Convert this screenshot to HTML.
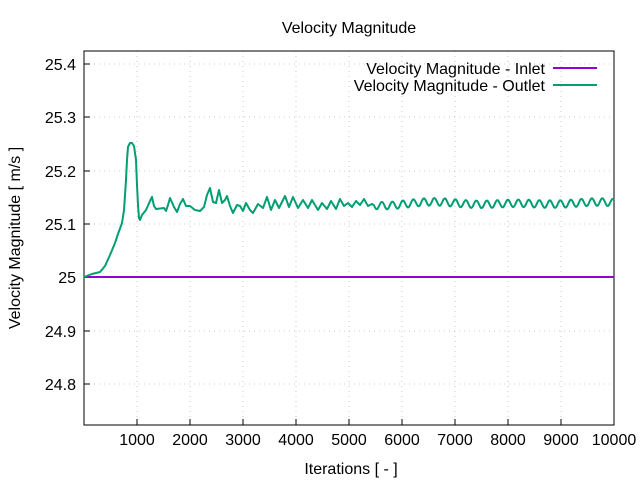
<!DOCTYPE html>
<html><head><meta charset="utf-8"><style>
body{margin:0;background:#fff;width:640px;height:480px;overflow:hidden}
text{font-family:"Liberation Sans",sans-serif;font-size:16px;fill:#000}
</style></head><body>
<svg width="640" height="480" xmlns="http://www.w3.org/2000/svg">
<g stroke="#c8c8c8" stroke-dasharray="1,4" stroke-width="1">
<line x1="84" y1="64" x2="614" y2="64"/><line x1="84" y1="117" x2="614" y2="117"/>
<line x1="84" y1="171" x2="614" y2="171"/><line x1="84" y1="224" x2="614" y2="224"/>
<line x1="84" y1="331" x2="614" y2="331"/><line x1="84" y1="384" x2="614" y2="384"/>
<line x1="137" y1="51" x2="137" y2="425"/><line x1="190" y1="51" x2="190" y2="425"/>
<line x1="243" y1="51" x2="243" y2="425"/><line x1="296" y1="51" x2="296" y2="425"/>
<line x1="349" y1="51" x2="349" y2="425"/><line x1="402" y1="51" x2="402" y2="425"/>
<line x1="455" y1="51" x2="455" y2="425"/><line x1="508" y1="51" x2="508" y2="425"/>
<line x1="561" y1="51" x2="561" y2="425"/>
</g>
<rect x="84" y="51" width="530" height="374" fill="none" stroke="#000" stroke-width="1"/>
<g stroke="#000">
<line x1="84" y1="64" x2="90" y2="64"/><line x1="84" y1="117" x2="90" y2="117"/><line x1="84" y1="171" x2="90" y2="171"/><line x1="84" y1="224" x2="90" y2="224"/><line x1="84" y1="277" x2="90" y2="277"/><line x1="84" y1="331" x2="90" y2="331"/><line x1="84" y1="384" x2="90" y2="384"/>
<line x1="137" y1="425" x2="137" y2="419"/><line x1="190" y1="425" x2="190" y2="419"/><line x1="243" y1="425" x2="243" y2="419"/><line x1="296" y1="425" x2="296" y2="419"/><line x1="349" y1="425" x2="349" y2="419"/><line x1="402" y1="425" x2="402" y2="419"/><line x1="455" y1="425" x2="455" y2="419"/><line x1="508" y1="425" x2="508" y2="419"/><line x1="561" y1="425" x2="561" y2="419"/>
</g>
<g text-anchor="end">
<text x="76" y="70">25.4</text><text x="76" y="123">25.3</text><text x="76" y="177">25.2</text><text x="76" y="230">25.1</text><text x="76" y="283">25</text><text x="76" y="337">24.9</text><text x="76" y="390">24.8</text>
</g>
<g text-anchor="middle">
<text x="137" y="445">1000</text><text x="190" y="445">2000</text><text x="243" y="445">3000</text><text x="296" y="445">4000</text><text x="349" y="445">5000</text><text x="402" y="445">6000</text><text x="455" y="445">7000</text><text x="508" y="445">8000</text><text x="561" y="445">9000</text><text x="614" y="445">10000</text>
<text x="351" y="474">Iterations [ - ]</text>
<text x="349" y="33">Velocity Magnitude</text>
<text transform="translate(20,238) rotate(-90)">Velocity Magnitude [ m/s ]</text>
</g>
<text x="545" y="74" text-anchor="end">Velocity Magnitude - Inlet</text>
<text x="545" y="91" text-anchor="end">Velocity Magnitude - Outlet</text>
<line x1="553" y1="68" x2="597" y2="68" stroke="#9400d3" stroke-width="2"/>
<line x1="553" y1="85" x2="597" y2="85" stroke="#009e73" stroke-width="2"/>
<line x1="84" y1="277" x2="614" y2="277" stroke="#9400d3" stroke-width="2"/>
<polyline id="out" fill="none" stroke="#009e73" stroke-width="2" stroke-linejoin="round" points="84,277 92,274 100,272 105,266 110,255 115,243 118,234 122,223 124,210 126,180 127,160 128,147 130,143 132,143 134,146 136,160 137,185 138,205 139,218 140,220 142,215 146,210 150,201 152,197 154,206 156,209 164,208 166,211 168,205 170,198 174,207 177,212 180,204 183,199 186,206 190,206 195,210 200,211 204,207 207,195 210,188 213,202 216,203 219,190 222,203 225,200 227,196 230,206 233,213 237,205 240,206 243,211 246,203 250,210 253,213 258,204 263,208 267,197 271,210 275,200 279,208 285,196 289,207 293,197 298,208 303,200 308,208 312,200 318,210 322,203 327,209 331,201 336,209 340,199 344,206 348,203 352,207 356,201 360,205 364,199 368,206 372,204"/>
<script>
var p=document.getElementById('out');var s=p.getAttribute('points');
for(var x=374;x<=614;x+=1){var y=203.5+3.8*Math.sin((x-374)*2*Math.PI/10.5)+1.2*Math.sin(x*0.07)+1.0*Math.sin(x*0.05+1);s+=' '+x+','+y.toFixed(1);}
p.setAttribute('points',s);
</script>
</svg>
</body></html>
